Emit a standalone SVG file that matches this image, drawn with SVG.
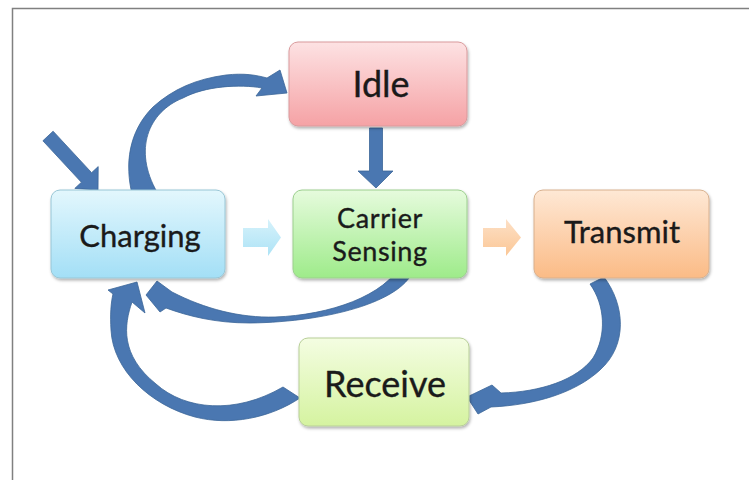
<svg xmlns="http://www.w3.org/2000/svg" width="749" height="480" viewBox="0 0 749 480">
<defs>
<linearGradient id="gIdle" x1="0" y1="0" x2="0" y2="1"><stop offset="0" stop-color="#fde2e3"/><stop offset="1" stop-color="#f5a2a5"/></linearGradient>
<linearGradient id="gCharge" x1="0" y1="0" x2="0" y2="1"><stop offset="0" stop-color="#e3f7fd"/><stop offset="1" stop-color="#a3dff6"/></linearGradient>
<linearGradient id="gSense" x1="0" y1="0" x2="0" y2="1"><stop offset="0" stop-color="#e6fbdd"/><stop offset="1" stop-color="#9eeb8a"/></linearGradient>
<linearGradient id="gTrans" x1="0" y1="0" x2="0" y2="1"><stop offset="0" stop-color="#fee8d5"/><stop offset="1" stop-color="#fbbb86"/></linearGradient>
<linearGradient id="gRecv" x1="0" y1="0" x2="0" y2="1"><stop offset="0" stop-color="#f4fde2"/><stop offset="1" stop-color="#d5f3a0"/></linearGradient>
<linearGradient id="gBlueArr" x1="0" y1="0" x2="0" y2="1"><stop offset="0" stop-color="#d6f2fb"/><stop offset="1" stop-color="#ade3f6"/></linearGradient>
<linearGradient id="gPeachArr" x1="0" y1="0" x2="0" y2="1"><stop offset="0" stop-color="#fde0c6"/><stop offset="1" stop-color="#fbc796"/></linearGradient>
<filter id="shadow" x="-10%" y="-10%" width="120%" height="130%">
<feDropShadow dx="1" dy="2" stdDeviation="1.5" flood-color="#000" flood-opacity="0.3"/>
</filter>
</defs>
<style>
.box{stroke-width:1;filter:url(#shadow)}
.lbl{font-family:Lato,"Liberation Sans",sans-serif;fill:#1a1a1a;stroke:#1a1a1a;stroke-width:0.35;text-anchor:middle}
.arc{fill:#4a77b1;stroke:#3b6698;stroke-width:0.8;stroke-linejoin:round}
.frame{fill:none;stroke:#808080;stroke-width:1.5}
</style>
<rect width="749" height="480" fill="#ffffff"/>
<path class="frame" d="M12.5,480 L12.5,8.5 L749,8.5"/>

<g id="connectors">
<polygon class="arc" points="53.1,131.2 91.6,172.7 98.2,166.6 98,190 74.8,188.4 81.4,182.3 42.9,140.8"/>
<path class="arc" d="M132,194 C125,165 128,132 153,107 C173,89 196,79 226,75 C244,73 256,75 267,78 L280,70 L287,93 L256,96 L262,88 C240,84 205,86 183,98 C148,112 133,150 157,192 Z"/>
<polygon class="arc" points="369.5,128 382.5,128 382.5,171 393,171 376,188 358,171 369.5,171"/>
<polygon fill="url(#gBlueArr)" points="243,228 268,228 268,219 281,237.5 268,256 268,247 243,247"/>
<polygon fill="url(#gPeachArr)" points="483,228 506,228 506,219 521,237.5 506,256 506,247 483,247"/>
<path class="arc" d="M402,263 L415,263 C412,300 330,322 250,323 C215,323 188,316 166,308 L160,312 L146,295 L157,281 L172,292 C205,309 240,318 275,317 C330,315 385,296 402,263 Z"/>
<path class="arc" d="M590,284 L604,277 C625,305 628,345 600,370 C575,393 535,405 491,407 L478,414 L467,397 L492,385 L501,393 C540,392 577,380 593,358 C607,335 605,305 590,284 Z"/>
<path class="arc" d="M283,387 L300,398 C270,418 230,426 195,417 C150,405 113,370 111,330 C110,315 111,302 113,294 L108,290 L137,282 L145,313 L132,302 C124,325 120,355 156,384 C185,410 235,415 283,387 Z"/>
</g>

<g id="node-idle">
<rect class="box" x="289" y="42" width="178" height="84" rx="9" fill="url(#gIdle)" stroke="#d99a9c"/>
<text class="lbl" x="381" y="97" font-size="36">Idle</text>
</g>
<g id="node-charging">
<rect class="box" x="51" y="190" width="174" height="88" rx="9" fill="url(#gCharge)" stroke="#98c6d6"/>
<text class="lbl" x="140" y="247" font-size="31">Charging</text>
</g>
<g id="node-carrier-sensing">
<rect class="box" x="293" y="190" width="174" height="88" rx="9" fill="url(#gSense)" stroke="#9ccf8e"/>
<text class="lbl" x="380" y="228" font-size="27" letter-spacing="0.6">Carrier</text>
<text class="lbl" x="380" y="261" font-size="27" letter-spacing="0.6">Sensing</text>
</g>
<g id="node-transmit">
<rect class="box" x="534" y="190" width="175" height="88" rx="9" fill="url(#gTrans)" stroke="#d8b08e"/>
<text class="lbl" x="622" y="243" font-size="31">Transmit</text>
</g>
<g id="node-receive">
<rect class="box" x="299" y="338" width="170" height="88" rx="9" fill="url(#gRecv)" stroke="#b8cf98"/>
<text class="lbl" x="385" y="397" font-size="36">Receive</text>
</g>
</svg>
